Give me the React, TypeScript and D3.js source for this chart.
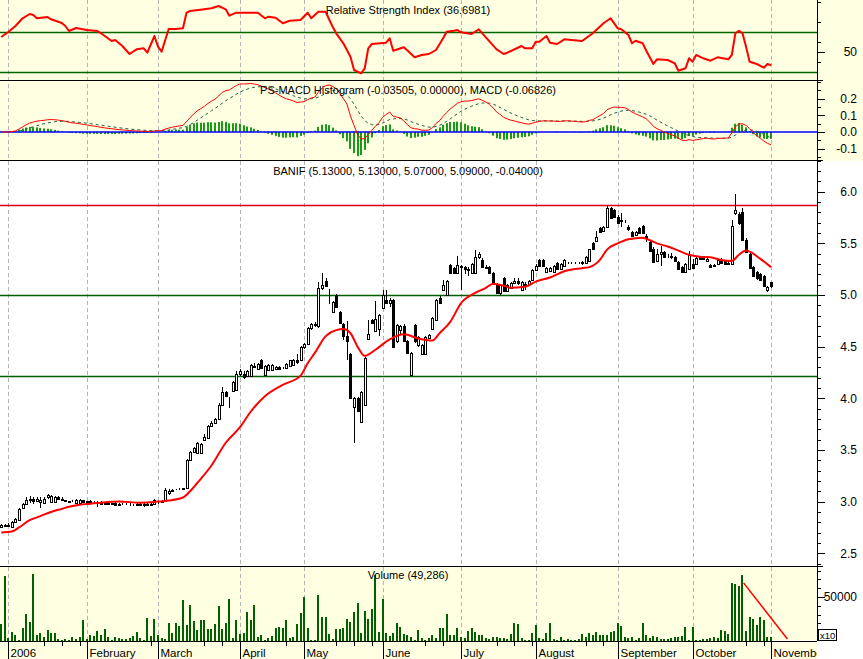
import React, { useMemo } from 'react';
import * as d3 from 'd3';

// ---------- DATA ----------
const startDate = '2005-12-29';
const holidays = ['2006-04-14', '2006-04-17', '2006-05-01', '2006-11-01'];
const monthLabels = ['2006', 'February', 'March', 'April', 'May', 'June', 'July', 'August', 'September', 'October', 'November'];

const opens = [
  2.75, 2.77,
  2.76, 2.75, 2.80, 2.82, 2.94, 2.98, 3.02, 3.03, 3.01, 3.00, 2.99, 3.04, 3.00, 3.00, 3.04, 3.03, 3.02, 3.01, 3.01, 2.99, 2.99, 3.02,
  3.00, 3.01, 3.00, 2.99, 3.00, 2.98, 2.99, 2.98, 2.99, 2.97, 2.98, 2.98, 2.97, 2.97, 2.97, 2.98, 2.97, 2.98, 2.97, 2.98,
  3.00, 3.00, 3.01, 3.08, 3.10, 3.12, 3.12, 3.12, 3.13, 3.40, 3.48, 3.47, 3.47, 3.60, 3.62, 3.73, 3.76, 3.80, 3.94, 4.06, 4.00, 4.07, 4.08,
  4.24, 4.24, 4.22, 4.22, 4.31, 4.28, 4.37, 4.23, 4.27, 4.27, 4.28, 4.30, 4.29, 4.29, 4.31, 4.32, 4.37, 4.37,
  4.50, 4.53, 4.68, 4.72, 4.70, 5.07, 5.14, 5.05, 4.84, 5.00, 4.84, 4.72, 4.60, 4.43, 3.92, 4.00, 3.77, 3.94, 4.57, 4.76, 4.65, 4.67,
  4.87, 4.95, 4.92, 4.95, 4.55, 4.66, 4.70, 4.55, 4.23, 4.71, 4.52, 4.43, 4.43, 4.58, 4.67, 4.76, 4.97, 5.05, 5.00, 5.29, 5.26, 5.21,
  5.28, 5.27, 5.25, 5.21, 5.21, 5.37, 5.34, 5.27, 5.27, 5.21, 5.11, 5.02, 5.16, 5.04, 5.07, 5.12, 5.14, 5.05, 5.10, 5.11, 5.15,
  5.24, 5.34, 5.34, 5.22, 5.23, 5.22, 5.31, 5.25, 5.28, 5.31, 5.31, 5.31, 5.31, 5.31, 5.31, 5.33, 5.50, 5.52, 5.65, 5.62, 5.66, 5.84, 5.82,
  5.76, 5.72, 5.72, 5.66, 5.61, 5.58, 5.65, 5.67, 5.57, 5.51, 5.45, 5.33, 5.40, 5.42, 5.38, 5.38, 5.37, 5.32, 5.27, 5.22, 5.25,
  5.30, 5.30, 5.37, 5.35, 5.33, 5.29, 5.29, 5.30, 5.33, 5.33, 5.31, 5.30, 5.79, 5.78, 5.80, 5.53, 5.40, 5.27, 5.22, 5.20, 5.18, 5.05,
  5.13,
];
const highs = [
  2.78, 2.78,
  2.79, 2.81, 2.84, 2.94, 2.99, 3.04, 3.05, 3.04, 3.04, 3.04, 3.04, 3.07, 3.06, 3.05, 3.05, 3.04, 3.02, 3.01, 3.02, 3.03, 3.03, 3.02,
  3.01, 3.02, 3.01, 3.01, 3.01, 3.00, 3.00, 2.99, 3.00, 2.99, 2.99, 2.99, 2.99, 2.98, 2.99, 2.99, 2.99, 2.99, 2.99, 3.03,
  3.01, 3.02, 3.13, 3.12, 3.12, 3.12, 3.13, 3.13, 3.41, 3.49, 3.53, 3.58, 3.57, 3.65, 3.74, 3.78, 3.81, 3.95, 4.11, 4.07, 4.01, 4.17, 4.26,
  4.28, 4.26, 4.27, 4.33, 4.34, 4.34, 4.38, 4.32, 4.33, 4.33, 4.31, 4.31, 4.30, 4.34, 4.37, 4.38, 4.43, 4.51,
  4.54, 4.69, 4.73, 4.74, 5.13, 5.21, 5.16, 5.06, 4.94, 5.01, 4.85, 4.73, 4.75, 4.44, 4.01, 4.01, 4.07, 4.40, 4.76, 4.77, 4.94, 4.82,
  5.05, 5.05, 4.97, 4.96, 4.72, 4.71, 4.72, 4.56, 4.45, 4.72, 4.60, 4.53, 4.60, 4.62, 4.79, 4.96, 4.99, 5.15, 5.15, 5.30, 5.27, 5.38,
  5.29, 5.28, 5.27, 5.31, 5.44, 5.42, 5.36, 5.29, 5.28, 5.22, 5.12, 5.11, 5.17, 5.11, 5.13, 5.16, 5.16, 5.14, 5.13, 5.15, 5.25,
  5.30, 5.35, 5.35, 5.27, 5.27, 5.29, 5.32, 5.31, 5.35, 5.32, 5.32, 5.32, 5.32, 5.33, 5.38, 5.45, 5.51, 5.62, 5.66, 5.67, 5.87, 5.85, 5.83,
  5.77, 5.79, 5.73, 5.68, 5.62, 5.62, 5.66, 5.68, 5.59, 5.52, 5.46, 5.45, 5.47, 5.43, 5.40, 5.41, 5.38, 5.33, 5.28, 5.31, 5.43,
  5.35, 5.38, 5.38, 5.38, 5.36, 5.30, 5.30, 5.35, 5.36, 5.34, 5.33, 5.73, 5.98, 5.80, 5.84, 5.55, 5.41, 5.28, 5.23, 5.21, 5.19, 5.09,
  5.13,
];
const lows = [
  2.74, 2.75,
  2.75, 2.74, 2.79, 2.81, 2.93, 2.97, 2.99, 2.98, 3.00, 2.94, 2.98, 3.03, 2.99, 2.99, 3.02, 3.01, 3.01, 3.00, 3.00, 2.98, 2.98, 3.00,
  2.99, 3.00, 2.99, 2.95, 2.97, 2.97, 2.97, 2.97, 2.96, 2.96, 2.97, 2.97, 2.96, 2.96, 2.96, 2.96, 2.95, 2.96, 2.96, 2.97,
  2.98, 2.99, 3.00, 3.06, 3.09, 3.11, 3.11, 3.11, 3.12, 3.39, 3.47, 3.46, 3.46, 3.59, 3.61, 3.72, 3.75, 3.79, 3.93, 4.01, 3.91, 4.06, 4.07,
  4.22, 4.19, 4.21, 4.21, 4.29, 4.27, 4.28, 4.22, 4.26, 4.26, 4.27, 4.27, 4.28, 4.28, 4.30, 4.31, 4.33, 4.36,
  4.48, 4.52, 4.66, 4.69, 4.68, 5.05, 5.08, 4.91, 4.83, 4.87, 4.72, 4.56, 4.37, 3.99, 3.57, 3.87, 3.76, 3.93, 4.56, 4.72, 4.64, 4.60,
  4.86, 4.91, 4.88, 4.49, 4.54, 4.62, 4.55, 4.43, 4.22, 4.54, 4.50, 4.42, 4.42, 4.57, 4.66, 4.75, 4.91, 5.04, 4.99, 5.20, 5.20, 5.20,
  5.05, 5.20, 5.18, 5.20, 5.20, 5.35, 5.26, 5.25, 5.20, 5.10, 5.01, 5.00, 5.03, 5.03, 5.06, 5.11, 5.10, 5.04, 5.05, 5.10, 5.14,
  5.23, 5.27, 5.27, 5.21, 5.22, 5.21, 5.24, 5.24, 5.27, 5.30, 5.30, 5.30, 5.30, 5.29, 5.30, 5.33, 5.44, 5.51, 5.60, 5.61, 5.65, 5.74, 5.75,
  5.69, 5.66, 5.70, 5.62, 5.56, 5.57, 5.59, 5.59, 5.51, 5.42, 5.31, 5.32, 5.28, 5.36, 5.36, 5.35, 5.32, 5.24, 5.21, 5.21, 5.24,
  5.25, 5.29, 5.34, 5.34, 5.32, 5.26, 5.27, 5.29, 5.30, 5.29, 5.29, 5.29, 5.77, 5.68, 5.52, 5.41, 5.25, 5.17, 5.15, 5.14, 5.08, 5.03,
  5.07,
];
const closes = [
  2.77, 2.76,
  2.77, 2.80, 2.83, 2.93, 2.98, 3.02, 3.03, 3.01, 3.03, 3.02, 3.03, 3.06, 3.05, 3.04, 3.03, 3.02, 3.01, 3.00, 3.01, 3.02, 3.02, 3.00,
  3.01, 3.00, 3.00, 3.00, 2.98, 2.99, 2.98, 2.99, 2.97, 2.98, 2.98, 2.98, 2.97, 2.97, 2.98, 2.97, 2.98, 2.97, 2.98, 3.02,
  3.00, 3.01, 3.11, 3.10, 3.11, 3.12, 3.12, 3.13, 3.40, 3.48, 3.52, 3.57, 3.56, 3.63, 3.73, 3.76, 3.80, 3.94, 4.06, 4.02, 4.00, 4.16, 4.24,
  4.26, 4.21, 4.26, 4.32, 4.30, 4.33, 4.29, 4.31, 4.32, 4.32, 4.30, 4.28, 4.29, 4.33, 4.37, 4.37, 4.35, 4.50,
  4.53, 4.68, 4.72, 4.71, 5.07, 5.10, 5.09, 5.05, 4.93, 4.88, 4.73, 4.60, 4.55, 4.00, 4.00, 3.88, 4.06, 4.39, 4.62, 4.73, 4.77, 4.81,
  5.00, 4.92, 4.95, 4.50, 4.71, 4.70, 4.55, 4.44, 4.44, 4.55, 4.59, 4.52, 4.59, 4.61, 4.78, 4.95, 4.92, 5.10, 5.14, 5.21, 5.21, 5.29,
  5.27, 5.25, 5.24, 5.30, 5.37, 5.40, 5.27, 5.26, 5.21, 5.11, 5.02, 5.10, 5.04, 5.10, 5.12, 5.14, 5.12, 5.13, 5.11, 5.14, 5.24,
  5.28, 5.28, 5.28, 5.26, 5.26, 5.28, 5.25, 5.30, 5.34, 5.31, 5.31, 5.31, 5.31, 5.32, 5.37, 5.45, 5.45, 5.56, 5.61, 5.66, 5.84, 5.75, 5.76,
  5.70, 5.73, 5.72, 5.64, 5.57, 5.61, 5.60, 5.60, 5.55, 5.43, 5.32, 5.40, 5.42, 5.37, 5.38, 5.37, 5.33, 5.25, 5.22, 5.30, 5.39,
  5.26, 5.36, 5.35, 5.36, 5.35, 5.27, 5.28, 5.34, 5.31, 5.30, 5.30, 5.67, 5.82, 5.70, 5.53, 5.42, 5.26, 5.18, 5.16, 5.15, 5.09, 5.08,
  5.09,
];
const volumes = [
  18950, 73900,
  3000, 10600, 6800, 1100, 14400, 30700, 22000, 75800, 6800, 9500, 4000, 12500, 9500, 9500, 1900, 1100, 1900, 1100, 4900, 1900, 4200, 23900,
  2000, 6800, 5700, 11700, 6800, 13300, 4900, 1100, 4200, 3000, 1900, 2700, 3800, 5700, 9900, 3000, 1100, 25800, 5700, 25000,
  6800, 3000, 1900, 20800, 8700, 20800, 17100, 46600, 18200, 40900, 22700, 12500, 23900, 23900, 13300, 13300, 18950, 39800, 13300, 20800, 47800, 3000, 23900,
  8000, 9500, 33400, 23900, 40900, 4900, 6800, 1100, 3800, 5700, 14400, 16300, 14400, 23900, 3000, 4900, 18950, 32200,
  50400, 14400, 1100, 1100, 52300, 26900, 26900, 8000, 1900, 13300, 13600, 14400, 25000, 22000, 33400, 43600, 8700, 34500, 25000, 36000, 75000, 10000,
  47800, 8700, 5700, 8700, 20100, 16300, 8000, 6800, 4200, 1100, 12500, 3000, 1500, 3800, 6800, 3000, 14400, 14400, 30700, 6800, 6800, 14400,
  4200, 3000, 11400, 14400, 9900, 6800, 6800, 3000, 1900, 4900, 4900, 3000, 3000, 1900, 8000, 20100, 19300, 3000, 1100, 1500, 8700,
  18200, 3000, 1900, 8700, 20100, 1900, 1100, 4900, 1100, 1900, 1100, 1100, 1900, 8000, 4900, 9500, 6800, 10600, 6800, 6800, 6800, 10600, 11700,
  20100, 17100, 4900, 3000, 4900, 1100, 3000, 20100, 6800, 3000, 5700, 4900, 1900, 1900, 1900, 3000, 4200, 4900, 5700, 15500, 1100,
  16300, 1100, 1100, 1900, 1900, 3000, 4900, 3000, 12500, 11400, 8000, 65600, 64800, 62500, 75000, 11700, 26900, 24600, 18200, 26900, 23900, 4900,
  4929,
];
// 21-day moving average: [bar index, value]
const maPoints: [number, number][] = [
  [0, 2.70], [3, 2.71], [5, 2.75], [8, 2.82], [11, 2.86], [14, 2.90], [17, 2.93], [19, 2.95], [22, 2.97], [25, 2.98], [28, 2.99],
  [33, 3.00], [39, 2.99], [44, 3.00], [47, 3.01], [51, 3.04], [53, 3.10], [55, 3.18], [56, 3.22], [59, 3.35], [63, 3.57], [67, 3.72],
  [70, 3.87], [74, 4.02], [79, 4.13], [84, 4.22], [86, 4.34], [88, 4.44], [91, 4.60], [94, 4.66], [96, 4.67], [98, 4.63], [100, 4.50],
  [102, 4.41], [105, 4.47], [109, 4.57], [113, 4.62], [117, 4.58], [121, 4.56], [123, 4.63], [126, 4.74], [129, 4.92], [133, 5.02],
  [136, 5.07], [138, 5.11], [141, 5.09], [143, 5.07], [147, 5.08], [150, 5.13], [154, 5.17], [158, 5.23], [163, 5.26], [165, 5.27],
  [168, 5.34], [170, 5.44], [173, 5.50], [176, 5.54], [180, 5.555], [182, 5.53], [184, 5.50], [187, 5.47], [190, 5.43], [193, 5.39],
  [196, 5.37], [199, 5.365], [202, 5.34], [205, 5.33], [207, 5.39], [209, 5.43], [210, 5.42], [213, 5.35], [216, 5.27],
];
// RSI: [bar index, value]
const rsiPoints: [number, number][] = [
  [0, 65], [2, 70], [4, 76], [6, 83.7], [8, 88], [9, 87], [10, 83.7], [13, 85], [14, 82.7], [17, 79], [18, 76], [19, 71], [21, 74],
  [24, 72], [27, 71], [28, 68.7], [31, 61], [32, 62], [34, 56], [36, 48], [38, 52.7], [40, 53.7], [41, 49.3], [43, 66], [44, 55.3],
  [45, 50.3], [47, 73], [49, 73], [51, 73.7], [52, 89.3], [53, 91], [57, 92.7], [59, 93.7], [61, 96], [63, 92.7], [64, 86.3], [66, 89.3],
  [72, 89.3], [74, 83.7], [75, 85.3], [77, 84.3], [79, 78.7], [81, 81.3], [84, 82], [86, 89.3], [87, 83.7], [89, 90.3], [91, 90.3],
  [93, 75.3], [94, 68.7], [96, 58.7], [98, 45.3], [99, 32], [101, 28.7], [102, 33.7], [103, 53.7], [104, 58], [108, 59.3], [109, 63.7],
  [110, 51.3], [113, 54.7], [116, 44.7], [118, 47], [120, 48], [122, 52], [124, 63.7], [125, 70.3], [127, 71.3], [128, 72], [129, 69.7],
  [132, 68], [134, 72.7], [136, 64.7], [139, 52.7], [141, 48], [142, 49.3], [146, 56], [147, 53.7], [149, 53.7], [150, 60.3], [151, 60.3],
  [153, 66], [154, 59.3], [156, 58], [158, 62.7], [160, 62], [163, 61], [166, 68.7], [169, 78.7], [171, 83.7], [173, 73.7], [174, 72.7],
  [176, 67], [177, 58.7], [178, 61.3], [180, 58.7], [181, 51.3], [183, 38], [184, 42.7], [187, 42], [189, 38.7], [190, 31.3], [192, 33.7],
  [193, 43.7], [194, 40.3], [195, 47], [196, 45.3], [197, 43.7], [199, 41.3], [201, 44.7], [204, 42.7], [205, 47], [206, 68.7], [207, 71.3],
  [208, 68.7], [209, 55.3], [210, 40.3], [212, 38], [214, 34.3], [215, 38], [216, 36.7],
];
const volTrend: [number, number][] = [[208.3, 66000], [220.6, 2300]];
const rsiLevels = [70, 30];
const priceLevels = [5.871, 4.997, 4.216];
const priceTicks = [6.0, 5.5, 5.0, 4.5, 4.0, 3.5, 3.0, 2.5];
const macdTicks = [0.2, 0.1, 0.0, -0.1];
const volTicks = [50000];

const titles = {
  rsi: 'Relative Strength Index (36.6981)',
  macd: 'PS-MACD Histogram (-0.03505, 0.00000), MACD (-0.06826)',
  price: 'BANIF (5.13000, 5.13000, 5.07000, 5.09000, -0.04000)',
  vol: 'Volume (49,286)',
};

// ---------- HELPERS ----------
const ema = (arr: number[], n: number) => {
  const k = 2 / (n + 1);
  let p = arr[0];
  return arr.map((v, i) => (p = i === 0 ? v : v * k + p * (1 - k)));
};

function tradingDates(n: number) {
  const out: Date[] = [];
  const d = new Date(startDate + 'T00:00:00Z');
  while (out.length < n) {
    const dow = d.getUTCDay();
    const iso = d.toISOString().slice(0, 10);
    if (dow !== 0 && dow !== 6 && !holidays.includes(iso)) out.push(new Date(d));
    d.setUTCDate(d.getUTCDate() + 1);
  }
  return out;
}

const FONT = 'Liberation Sans, Arial, Helvetica, sans-serif';
const AX = 817;
const YELLOW = '#FFFFE1';

export default function App() {
  const n = closes.length;
  const dates = useMemo(() => tradingDates(n), [n]);

  const x = d3.scaleLinear().domain([0, n - 1]).range([1.2, 771]);
  const yR = d3.scaleLinear().domain([22, 102]).range([80, 0]);
  const yM = d3.scaleLinear().domain([-0.168, 0.311]).range([160, 80]);
  const yP = d3.scaleLinear().domain([2.367, 6.307]).range([567, 160]);
  const yV = d3.scaleLinear().domain([0, 84000]).range([641, 567]);

  const e12 = ema(closes, 12);
  const e26 = ema(closes, 26);
  const macd = e12.map((v, i) => v - e26[i]);
  const signal = ema(macd, 9);
  const hist = macd.map((v, i) => v - signal[i]);

  const monthStarts: number[] = [];
  const weekStarts: number[] = [];
  for (let i = 1; i < n; i++) {
    if (dates[i].getUTCMonth() !== dates[i - 1].getUTCMonth()) monthStarts.push(i);
    else if (dates[i].getUTCDay() < dates[i - 1].getUTCDay()) weekStarts.push(i);
  }
  const px = (i: number) => Math.round(x(i)) + 0.5;

  const labelSpans = monthStarts.map((m, k) => [px(m), px(m) + 4 + monthLabels[k].length * 6.3]);
  const weekTicks = weekStarts.filter((w) => !labelSpans.some(([a, b]) => px(w) > a && px(w) < b));

  const rsiLine = d3.line<[number, number]>().x((d) => x(d[0])).y((d) => yR(d[1]));
  const maLine = d3.line<[number, number]>().x((d) => x(d[0])).y((d) => yP(d[1])).curve(d3.curveMonotoneX);
  const mLine = d3.line<number>().x((_, i) => x(i)).y((d) => yM(d));
  const vLine = d3.line<[number, number]>().x((d) => x(d[0])).y((d) => yV(d[1]));

  const priceMinor = d3.range(24, 64).map((v) => v / 10);
  const macdMinor = d3.range(-3, 7).map((v) => v * 0.05);
  const volMinor = d3.range(1, 9).map((v) => v * 10000);
  const rsiMinor = [40, 60, 80, 100];

  const gridColor = '#b4b4b4';

  return (
    <svg width={863} height={659} style={{ position: 'absolute', left: 0, top: 0, display: 'block' }} fontFamily={FONT}>
      <defs>
        <clipPath id="plotClip"><rect x={0} y={0} width={AX} height={659} /></clipPath>
      </defs>
      <rect x={0} y={0} width={863} height={659} fill="#ffffff" />
      <rect x={0} y={0} width={863} height={161} fill={YELLOW} />
      <rect x={0} y={567} width={AX} height={92} fill={YELLOW} />

      {/* vertical dashed grid */}
      {monthStarts.map((m) => (
        <line key={'g' + m} x1={px(m)} x2={px(m)} y1={0} y2={641} stroke={gridColor} strokeDasharray="4,3" />
      ))}

      {/* RSI panel */}
      {rsiLevels.map((l) => (
        <line key={'rl' + l} x1={0} x2={AX} y1={Math.round(yR(l)) + 0.5} y2={Math.round(yR(l)) + 0.5} stroke="#006400" strokeWidth={1.5} />
      ))}
      <path d={rsiLine(rsiPoints) || ''} fill="none" stroke="#ff0000" strokeWidth={2} strokeLinejoin="round" />
      <text x={408} y={14} fontSize={11} textAnchor="middle" fill="#000">{titles.rsi}</text>

      {/* MACD panel */}
      <g clipPath="url(#plotClip)">
        {hist.map((h, i) => {
          const y0 = yM(0), y1 = yM(h);
          return <rect key={'h' + i} x={Math.round(x(i)) - 1} y={Math.min(y0, y1)} width={2} height={Math.abs(y1 - y0)} fill="#1a9a1a" />;
        })}
      </g>
      <line x1={0} x2={AX} y1={yM(0)} y2={yM(0)} stroke="#0000ff" strokeWidth={1.5} />
      <path d={mLine(signal) || ''} fill="none" stroke="#1e5e46" strokeWidth={1} strokeDasharray="3,3" />
      <path d={mLine(macd) || ''} fill="none" stroke="#ff0000" strokeWidth={1} />
      <text x={408} y={94} fontSize={11} textAnchor="middle" fill="#000">{titles.macd}</text>

      {/* Price panel */}
      <rect x={0} y={161} width={AX} height={406} fill="#ffffff" opacity={0} />
      {priceLevels.map((l, k) => (
        <line key={'pl' + k} x1={0} x2={AX} y1={Math.round(yP(l)) + 0.5} y2={Math.round(yP(l)) + 0.5} stroke={k === 0 ? '#e00000' : '#006000'} strokeWidth={1.3} />
      ))}
      <g shapeRendering="crispEdges">
        {closes.map((c, i) => {
          const o = opens[i];
          const cx = Math.round(x(i));
          const top = Math.round(yP(Math.max(o, c)));
          const bot = Math.round(yP(Math.min(o, c)));
          const up = c >= o;
          return (
            <g key={'c' + i}>
              <line x1={cx + 0.5} x2={cx + 0.5} y1={Math.round(yP(highs[i]))} y2={Math.round(yP(lows[i]))} stroke="#000" strokeWidth={1} />
              <rect x={cx - 1 + 0.5} y={top + 0.5} width={2} height={Math.max(0, bot - top)} fill={up ? '#ffffff' : '#000000'} stroke="#000" strokeWidth={1} />
            </g>
          );
        })}
      </g>
      <path d={maLine(maPoints) || ''} fill="none" stroke="#ff0000" strokeWidth={2} />
      <text x={408} y={175} fontSize={11} textAnchor="middle" fill="#000">{titles.price}</text>

      {/* Volume panel */}
      <g shapeRendering="crispEdges">
        {volumes.map((v, i) => (
          <rect key={'v' + i} x={Math.round(x(i)) - 1} y={yV(v)} width={2} height={641 - yV(v)} fill="#005f00" />
        ))}
      </g>
      <path d={vLine(volTrend) || ''} fill="none" stroke="#ff0000" strokeWidth={1.5} />
      <text x={408} y={579} fontSize={11} textAnchor="middle" fill="#000">{titles.vol}</text>

      {/* separators */}
      {[80.5, 160.5, 566.5].map((y) => (
        <line key={'s' + y} x1={0} x2={823} y1={y} y2={y} stroke="#000" strokeWidth={1.2} />
      ))}
      <line x1={0} x2={AX} y1={641.5} y2={641.5} stroke="#000" strokeWidth={1.2} />
      <line x1={AX + 0.5} x2={AX + 0.5} y1={0} y2={641} stroke="#000" strokeWidth={1} />

      {/* right axis ticks & labels */}
      <g stroke="#000" strokeWidth={1} shapeRendering="crispEdges">
        {rsiMinor.map((t) => <line key={'rt' + t} x1={AX} x2={AX + 4} y1={Math.round(yR(t)) + 0.5} y2={Math.round(yR(t)) + 0.5} />)}
        <line x1={AX} x2={AX + 8} y1={Math.round(yR(50)) + 0.5} y2={Math.round(yR(50)) + 0.5} />
        {macdMinor.map((t, k) => {
          const major = macdTicks.some((m) => Math.abs(m - t) < 1e-9);
          return <line key={'mt' + k} x1={AX} x2={AX + (major ? 8 : 4)} y1={Math.round(yM(t)) + 0.5} y2={Math.round(yM(t)) + 0.5} />;
        })}
        {priceMinor.map((t, k) => {
          const major = priceTicks.some((m) => Math.abs(m - t) < 1e-9);
          return <line key={'pt' + k} x1={AX} x2={AX + (major ? 8 : 4)} y1={Math.round(yP(t)) + 0.5} y2={Math.round(yP(t)) + 0.5} />;
        })}
        {volMinor.map((t) => (
          <line key={'vt' + t} x1={AX} x2={AX + (volTicks.includes(t) ? 8 : 4)} y1={Math.round(yV(t)) + 0.5} y2={Math.round(yV(t)) + 0.5} />
        ))}
      </g>
      <g fontSize={12} textAnchor="end" fill="#000">
        <text x={857} y={yR(50)} dy="0.36em">50</text>
        {macdTicks.map((t) => <text key={'ml' + t} x={857} y={yM(t)} dy="0.36em">{t.toFixed(1)}</text>)}
        {priceTicks.map((t) => <text key={'pl' + t} x={857} y={yP(t)} dy="0.36em">{t.toFixed(1)}</text>)}
        {volTicks.map((t) => <text key={'vl' + t} x={857} y={yV(t)} dy="0.36em">{t}</text>)}
      </g>
      <rect x={818.5} y={629.5} width={18} height={11} fill="#ffffff" stroke="#000" strokeWidth={1} />
      <text x={820} y={638.5} fontSize={9.5} fill="#000">x10</text>

      {/* bottom date axis */}
      <g stroke="#000" strokeWidth={1} shapeRendering="crispEdges">
        {monthStarts.map((m) => <line key={'mt' + m} x1={px(m)} x2={px(m)} y1={641} y2={659} />)}
        {weekTicks.map((w) => <line key={'wt' + w} x1={px(w)} x2={px(w)} y1={641} y2={646} />)}
      </g>
      <g clipPath="url(#plotClip)" fontSize={11.5} fill="#000">
        {monthStarts.map((m, k) => (
          <text key={'ml' + m} x={px(m) + 2} y={657}>{monthLabels[k]}</text>
        ))}
      </g>
    </svg>
  );
}
